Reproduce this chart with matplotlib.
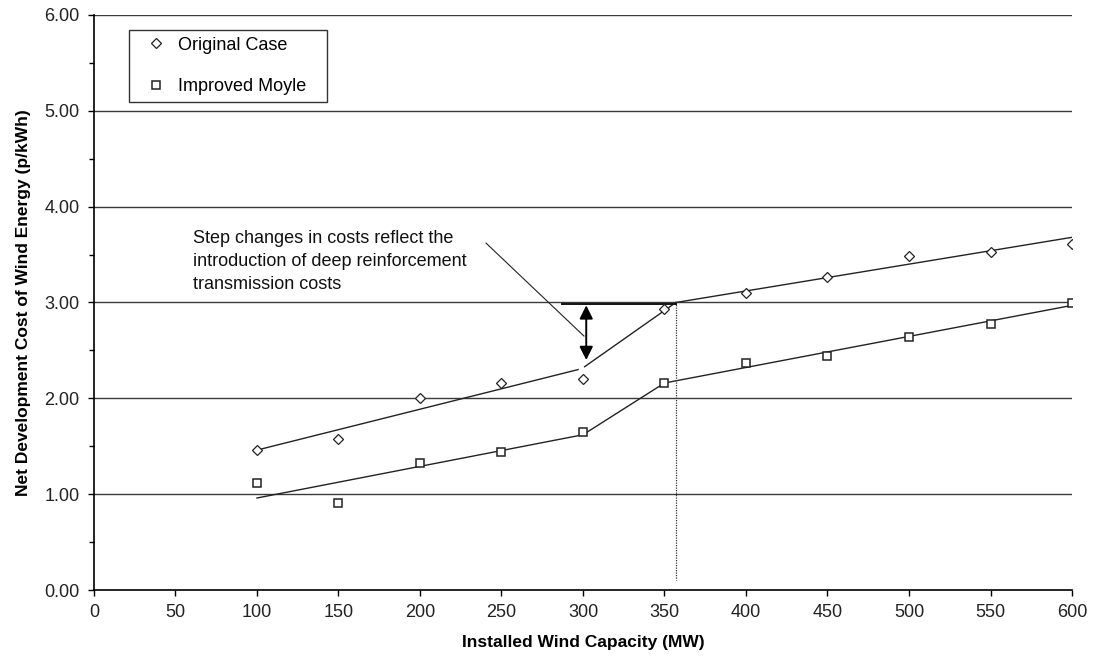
import matplotlib
matplotlib.use("Agg")
import matplotlib.pyplot as plt
from matplotlib.ticker import MultipleLocator, FormatStrFormatter

plt.rcParams['font.family'] = ['Liberation Sans', 'DejaVu Sans']

capacity = [100, 150, 200, 250, 300, 350, 400, 450, 500, 550, 600]
original_case = [1.46, 1.58, 2.00, 2.16, 2.20, 2.93, 3.10, 3.27, 3.48, 3.53, 3.61]
improved_moyle = [1.12, 0.91, 1.33, 1.44, 1.65, 2.16, 2.37, 2.44, 2.64, 2.78, 2.99]

# piecewise trend lines (segments)
orig_seg1_x = [100, 297]
orig_seg1_y = [1.46, 2.30]
orig_seg2_x = [301, 357]
orig_seg2_y = [2.33, 3.00]
orig_seg3_x = [357, 600]
orig_seg3_y = [3.00, 3.68]
impr_seg_x = [100, 300, 350, 600]
impr_seg_y = [0.96, 1.62, 2.16, 2.97]

step_x = 357
annotation_text = ("Step changes in costs reflect the\n"
                   "introduction of deep reinforcement\n"
                   "transmission costs")

fig = plt.figure(figsize=(10.95, 6.66), dpi=100)
ax = fig.add_axes([0.0858, 0.1141, 0.8932, 0.8634])

ax.set_xlim(0, 600)
ax.set_ylim(0, 6)

for y in [1, 2, 3, 4, 5, 6]:
    ax.axhline(y, color='#3a3a3a', lw=1.0, zorder=1)

ax.plot(orig_seg1_x, orig_seg1_y, color='#222222', lw=1.0, zorder=2)
ax.plot(orig_seg2_x, orig_seg2_y, color='#222222', lw=1.0, zorder=2)
ax.plot(orig_seg3_x, orig_seg3_y, color='#222222', lw=1.0, zorder=2)
ax.plot(impr_seg_x, impr_seg_y, color='#222222', lw=1.0, zorder=2)

ax.plot(capacity, original_case, linestyle='none', marker='D', markersize=5.5,
        markerfacecolor='white', markeredgecolor='#222222', markeredgewidth=0.9,
        label='Original Case', zorder=3)
ax.plot(capacity, improved_moyle, linestyle='none', marker='s', markersize=6,
        markerfacecolor='white', markeredgecolor='#222222', markeredgewidth=1.1,
        label='Improved Moyle', zorder=3)

# vertical dotted line
ax.plot([step_x, step_x], [3.0, 0.1], color='#333333', lw=0.9, linestyle=(0, (1, 1)), zorder=2)
# horizontal reference
ax.plot([287, 357], [2.98, 2.98], color='#111111', lw=1.4, zorder=2)
# double arrow
ax.annotate('', xy=(302, 2.40), xytext=(302, 2.97),
            arrowprops=dict(arrowstyle='<|-|>,head_length=0.5,head_width=0.25',
                            color='black', lw=1.4,
                            mutation_scale=16, shrinkA=0, shrinkB=0), zorder=4)
# callout line
ax.plot([240.5, 300.6], [3.62, 2.65], color='#222222', lw=0.8, zorder=2)
ax.text(60.5, 3.76, annotation_text, fontsize=13, va='top', ha='left',
        color='#111111', linespacing=1.49)

leg = ax.legend(loc='upper left', bbox_to_anchor=(0.0358, 0.849, 0.2025, 0.125),
                mode='expand', frameon=True,
                fancybox=False, edgecolor='black', fontsize=13,
                labelspacing=1.36, handlelength=2.2, handletextpad=0.15,
                borderpad=0.375, borderaxespad=0)
leg.get_frame().set_linewidth(1.0)

ax.xaxis.set_major_locator(MultipleLocator(50))
ax.yaxis.set_major_locator(MultipleLocator(1))
ax.yaxis.set_minor_locator(MultipleLocator(0.5))
ax.yaxis.set_major_formatter(FormatStrFormatter('%.2f'))
ax.tick_params(axis='both', which='major', direction='out', length=4.3, width=1,
               labelsize=13, labelcolor='#222222')
ax.tick_params(axis='y', which='major', pad=6)
ax.tick_params(axis='x', which='major', pad=6)
ax.tick_params(axis='y', which='minor', direction='out', length=3.6, width=1)

for s in ['top', 'right']:
    ax.spines[s].set_visible(False)
for s in ['left', 'bottom']:
    ax.spines[s].set_linewidth(1.2)
    ax.spines[s].set_color('black')

ax.set_xlabel('Installed Wind Capacity (MW)', fontsize=12.5, fontweight='bold', labelpad=10)
ax.set_ylabel('Net Development Cost of Wind Energy (p/kWh)', fontsize=12.5,
              fontweight='bold', labelpad=10)

fig.savefig('out.png', dpi=100)
